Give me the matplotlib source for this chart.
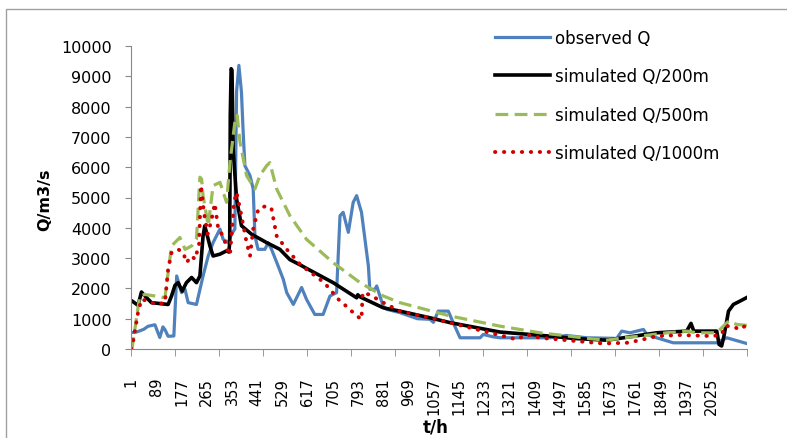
import matplotlib
matplotlib.use("Agg")
import matplotlib.pyplot as plt
from matplotlib.patches import Rectangle
import numpy as np

# hourly series, 2150 hours
n_hours = 2150

# observed discharge
obs_t = [1, 20, 45, 60, 84, 101, 112, 119, 130, 150, 160, 177, 189, 200, 229, 252,
         270, 287, 311, 322, 340, 352, 363, 369, 377, 386, 392, 398, 416, 427, 433,
         444, 468, 479, 491, 514, 532, 544, 567, 596, 613, 642, 671, 695, 718, 730,
         741, 759, 776, 788, 805, 829, 834, 852, 858, 881, 893, 939, 1000, 1044,
         1056, 1073, 1108, 1125, 1149, 1219, 1230, 1265, 1290, 1463, 1521, 1591,
         1696, 1713, 1742, 1789, 1801, 1835, 1893, 2045, 2080, 2150]
obs_q = [540, 560, 650, 750, 800, 380, 730, 640, 420, 430, 2410, 1860, 1970, 1530,
         1470, 2410, 3070, 3510, 3960, 3620, 3510, 3800, 3960, 8500, 9360, 8480,
         7160, 6050, 5720, 5280, 3730, 3290, 3290, 3510, 3290, 2740, 2300, 1860,
         1470, 2030, 1640, 1140, 1140, 1750, 1860, 4400, 4510, 3850, 4840, 5060,
         4510, 2740, 1970, 1970, 2080, 1400, 1310, 1200, 1000, 980, 880, 1250,
         1250, 870, 370, 370, 480, 400, 370, 370, 447, 370, 350, 590, 535, 645,
         480, 370, 205, 205, 370, 180]

# simulated, 200 m grid
s200_t = [1, 5, 25, 37, 49, 72, 130, 142, 154, 165, 179, 194, 212, 229, 241, 252,
          258, 276, 287, 311, 334, 342, 345, 347, 350, 353, 357, 369, 386, 421,
          474, 520, 555, 590, 625, 706, 788, 792, 800, 881, 939, 1044, 1114, 1288,
          1463, 1544, 1661, 1719, 1835, 1940, 1955, 1965, 2045, 2053, 2062, 2070,
          2086, 2103, 2126, 2150]
s200_q = [1600, 1580, 1440, 1880, 1750, 1530, 1470, 1750, 2100, 2190, 1910, 2190,
          2360, 2190, 2410, 3730, 4065, 3400, 3070, 3130, 3240, 3200, 3500, 7700,
          9250, 9200, 6600, 4950, 4070, 3790, 3510, 3290, 2950, 2780, 2600, 2190,
          1690, 1790, 1720, 1360, 1250, 1030, 870, 560, 425, 350, 290, 370, 535,
          590, 845, 590, 590, 150, 100, 425, 1250, 1470, 1580, 1700]

# simulated, 500 m grid
s500_t = [1, 4, 31, 49, 84, 119, 130, 142, 171, 189, 212, 229, 241, 247, 252, 270,
          287, 311, 334, 346, 363, 371, 381, 404, 433, 450, 474, 485, 509, 555, 613,
          706, 800, 881, 939, 1114, 1288, 1428, 1498, 1603, 1661, 1719, 1777, 1871,
          1940, 1975, 2045, 2062, 2086, 2115, 2150]
s500_q = [0, 0, 1750, 1800, 1750, 1690, 2520, 3400, 3680, 3290, 3400, 3620, 5670,
          5610, 5060, 4070, 5390, 5500, 4840, 6160, 7490, 7710, 6830, 5720, 5280,
          5720, 6050, 6150, 5280, 4400, 3620, 2850, 2190, 1750, 1530, 1090, 755,
          535, 460, 340, 290, 370, 425, 535, 590, 535, 535, 700, 920, 810, 780]

# simulated, 1000 m grid
s1000_t = [1, 8, 25, 37, 60, 90, 119, 130, 142, 165, 183, 194, 212, 224, 238, 245,
           255, 268, 280, 293, 305, 322, 340, 346, 352, 360, 369, 386, 404, 416,
           427, 445, 474, 491, 509, 544, 590, 613, 660, 683, 730, 759, 782, 805,
           809, 834, 881, 939, 1044, 1114, 1253, 1347, 1382, 1428, 1521, 1649, 1731,
           1777, 1835, 1917, 2033, 2062, 2074, 2097, 2126, 2150]
s1000_q = [0, 260, 1200, 1640, 1580, 1470, 1530, 2630, 3180, 3290, 3180, 2850, 3070,
           2960, 3460, 5400, 4510, 3800, 4200, 4800, 3960, 3730, 3180, 3100, 3850,
           4840, 5170, 4400, 3510, 3070, 3960, 4620, 4730, 4620, 3730, 3290, 2800,
           2630, 2300, 2100, 1580, 1360, 1140, 980, 1860, 1790, 1530, 1250, 1030,
           870, 535, 315, 480, 370, 290, 180, 205, 290, 425, 460, 425, 480, 755,
           755, 645, 800]

tick_labels = [str(v) for v in range(1, 2026, 88)]

plt.rcParams['font.family'] = ['DejaVu Sans']

fig = plt.figure(figsize=(7.87, 4.39), dpi=100)
ax = fig.add_axes([131 / 787, 1 - 350 / 439, 616 / 787, 303 / 439])

ax.plot(obs_t, obs_q, color='#4F81BD', lw=2.3, label='observed Q')
ax.plot(s200_t, s200_q, color='black', lw=2.6, label='simulated Q/200m')
ax.plot(s500_t, s500_q, color='#9BBB59', lw=2.3, ls=(0, (4, 2)),
        label='simulated Q/500m')
ax.plot(s1000_t, s1000_q, color='#D00000', lw=2.8, ls=(0, (0.1, 2.2)),
        dash_capstyle='round', label='simulated Q/1000m')

ax.set_xlim(0.5, n_hours + 0.5)
ax.set_ylim(0, 10000)
ax.set_yticks(np.arange(0, 10001, 1000))
ax.tick_params(axis='y', labelsize=11.5, length=4, color='#888888', pad=10)

# category labels every 88 h, tick marks every 14th of the axis
ax.set_xticks([int(s) for s in tick_labels])
ax.set_xticklabels(tick_labels, rotation=90, fontsize=10.5)
ax.tick_params(axis='x', length=0, pad=20)
ax.set_xticks(0.5 + np.arange(15) * n_hours / 14, minor=True)
ax.tick_params(axis='x', which='minor', length=5, color='#888888')

for side in ['top', 'right']:
    ax.spines[side].set_visible(False)
for side in ['left', 'bottom']:
    ax.spines[side].set_color('#888888')

fig.text(45 / 787, 1 - 200 / 439, 'Q/m3/s', rotation=90, fontsize=11.5,
         fontweight='bold', ha='center', va='center')
fig.text(436 / 787, 1 - 428 / 439, 't/h', fontsize=12, fontweight='bold',
         ha='center', va='center')

ax.legend(loc='upper left', bbox_to_anchor=(495 / 787, 1 - 30 / 439),
          bbox_transform=fig.transFigure, frameon=False, fontsize=12,
          handlelength=3.3, handletextpad=0.3, labelspacing=1.22,
          borderpad=0, borderaxespad=0)

# chart area border
fig.patches.append(Rectangle((6 / 787, -0.1), 1.2, 1.1 - 10 / 439,
                             transform=fig.transFigure, fill=False,
                             edgecolor='#A0A0A0', lw=1))

fig.savefig('out.png', dpi=100)
